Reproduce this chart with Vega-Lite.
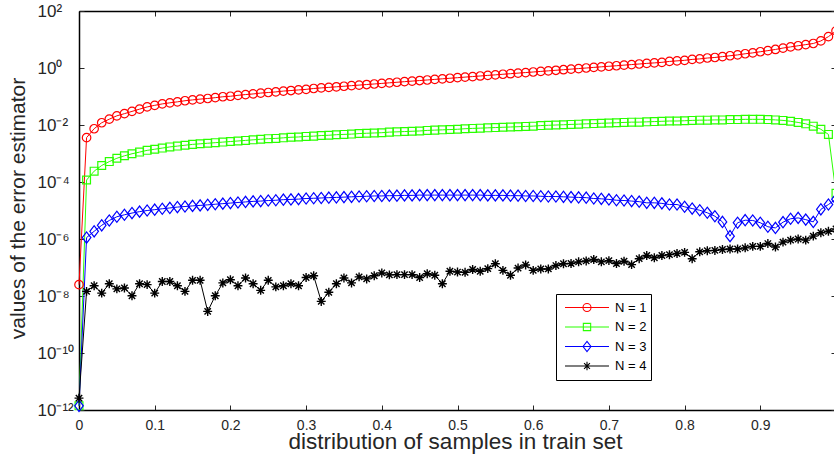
{
"$schema": "https://vega.github.io/schema/vega-lite/v6.json",
"width": 757, "height": 399,
"autosize": {"type": "none"},
"padding": {"left": 79, "top": 11, "right": 0, "bottom": 46},
"background": "white",
"config": {"view": {"stroke": null}, "font": "Liberation Sans"},
"data": {"values": [
{"x":0.00,"n1":2.5e-8,"n2":1.4e-12,"n3":1.4e-12,"n4":2.6e-12},
{"x":0.01,"n1":3.6e-3,"n2":1.17e-4,"n3":1.12e-6,"n4":1.45e-8},
{"x":0.02,"n1":7.4e-3,"n2":2.4e-4,"n3":1.86e-6,"n4":2.29e-8},
{"x":0.03,"n1":1.2e-2,"n2":3.8e-4,"n3":3.02e-6,"n4":1.26e-8},
{"x":0.04,"n1":1.6e-2,"n2":5.2e-4,"n3":4.47e-6,"n4":2.69e-8},
{"x":0.05,"n1":2.1e-2,"n2":6.8e-4,"n3":6.03e-6,"n4":1.78e-8},
{"x":0.06,"n1":2.5e-2,"n2":8.3e-4,"n3":7.08e-6,"n4":1.91e-8},
{"x":0.07,"n1":3.0e-2,"n2":9.8e-4,"n3":8.13e-6,"n4":1.02e-8},
{"x":0.08,"n1":3.6e-2,"n2":1.12e-3,"n3":9.12e-6,"n4":2.69e-8},
{"x":0.09,"n1":4.3e-2,"n2":1.29e-3,"n3":1.0e-5,"n4":2.51e-8},
{"x":0.10,"n1":4.9e-2,"n2":1.41e-3,"n3":1.07e-5,"n4":1.26e-8},
{"x":0.11,"n1":5.5e-2,"n2":1.55e-3,"n3":1.15e-5,"n4":3.24e-8},
{"x":0.12,"n1":6.0e-2,"n2":1.70e-3,"n3":1.23e-5,"n4":3.24e-8},
{"x":0.13,"n1":6.5e-2,"n2":1.82e-3,"n3":1.32e-5,"n4":2.29e-8},
{"x":0.14,"n1":7.1e-2,"n2":1.95e-3,"n3":1.38e-5,"n4":1.45e-8},
{"x":0.15,"n1":7.6e-2,"n2":2.09e-3,"n3":1.45e-5,"n4":3.55e-8},
{"x":0.16,"n1":8.1e-2,"n2":2.19e-3,"n3":1.51e-5,"n4":3.55e-8},
{"x":0.17,"n1":8.5e-2,"n2":2.29e-3,"n3":1.58e-5,"n4":2.88e-9},
{"x":0.18,"n1":9.1e-2,"n2":2.40e-3,"n3":1.66e-5,"n4":1.02e-8},
{"x":0.19,"n1":9.8e-2,"n2":2.51e-3,"n3":1.74e-5,"n4":2.88e-8},
{"x":0.20,"n1":0.102,"n2":2.63e-3,"n3":1.82e-5,"n4":3.72e-8},
{"x":0.21,"n1":0.110,"n2":2.75e-3,"n3":1.91e-5,"n4":2.29e-8},
{"x":0.22,"n1":0.117,"n2":2.88e-3,"n3":2.00e-5,"n4":4.27e-8},
{"x":0.23,"n1":0.123,"n2":3.02e-3,"n3":2.09e-5,"n4":2.69e-8},
{"x":0.24,"n1":0.132,"n2":3.16e-3,"n3":2.14e-5,"n4":1.58e-8},
{"x":0.25,"n1":0.138,"n2":3.31e-3,"n3":2.24e-5,"n4":3.55e-8},
{"x":0.26,"n1":0.145,"n2":3.39e-3,"n3":2.29e-5,"n4":2.09e-8},
{"x":0.27,"n1":0.155,"n2":3.55e-3,"n3":2.40e-5,"n4":2.29e-8},
{"x":0.28,"n1":0.162,"n2":3.72e-3,"n3":2.45e-5,"n4":2.69e-8},
{"x":0.29,"n1":0.170,"n2":3.80e-3,"n3":2.51e-5,"n4":2.29e-8},
{"x":0.30,"n1":0.178,"n2":3.98e-3,"n3":2.63e-5,"n4":4.47e-8},
{"x":0.31,"n1":0.191,"n2":4.07e-3,"n3":2.69e-5,"n4":5.13e-8},
{"x":0.32,"n1":0.200,"n2":4.27e-3,"n3":2.75e-5,"n4":6.46e-9},
{"x":0.33,"n1":0.209,"n2":4.37e-3,"n3":2.82e-5,"n4":1.35e-8},
{"x":0.34,"n1":0.219,"n2":4.57e-3,"n3":2.88e-5,"n4":2.69e-8},
{"x":0.35,"n1":0.229,"n2":4.68e-3,"n3":2.95e-5,"n4":4.27e-8},
{"x":0.36,"n1":0.240,"n2":4.79e-3,"n3":3.02e-5,"n4":2.88e-8},
{"x":0.37,"n1":0.251,"n2":5.01e-3,"n3":3.09e-5,"n4":4.68e-8},
{"x":0.38,"n1":0.263,"n2":5.13e-3,"n3":3.16e-5,"n4":3.98e-8},
{"x":0.39,"n1":0.275,"n2":5.25e-3,"n3":3.24e-5,"n4":5.13e-8},
{"x":0.40,"n1":0.288,"n2":5.37e-3,"n3":3.24e-5,"n4":6.46e-8},
{"x":0.41,"n1":0.302,"n2":5.62e-3,"n3":3.31e-5,"n4":5.50e-8},
{"x":0.42,"n1":0.316,"n2":5.75e-3,"n3":3.31e-5,"n4":5.62e-8},
{"x":0.43,"n1":0.331,"n2":5.89e-3,"n3":3.39e-5,"n4":5.62e-8},
{"x":0.44,"n1":0.347,"n2":6.03e-3,"n3":3.39e-5,"n4":5.62e-8},
{"x":0.45,"n1":0.363,"n2":6.17e-3,"n3":3.47e-5,"n4":4.47e-8},
{"x":0.46,"n1":0.380,"n2":6.46e-3,"n3":3.47e-5,"n4":6.03e-8},
{"x":0.47,"n1":0.398,"n2":6.61e-3,"n3":3.47e-5,"n4":5.37e-8},
{"x":0.48,"n1":0.417,"n2":6.76e-3,"n3":3.47e-5,"n4":2.69e-8},
{"x":0.49,"n1":0.437,"n2":6.92e-3,"n3":3.47e-5,"n4":7.41e-8},
{"x":0.50,"n1":0.457,"n2":7.08e-3,"n3":3.47e-5,"n4":6.92e-8},
{"x":0.51,"n1":0.479,"n2":7.41e-3,"n3":3.47e-5,"n4":6.76e-8},
{"x":0.52,"n1":0.501,"n2":7.59e-3,"n3":3.47e-5,"n4":8.51e-8},
{"x":0.53,"n1":0.525,"n2":7.76e-3,"n3":3.47e-5,"n4":7.41e-8},
{"x":0.54,"n1":0.550,"n2":7.94e-3,"n3":3.39e-5,"n4":9.12e-8},
{"x":0.55,"n1":0.575,"n2":8.13e-3,"n3":3.39e-5,"n4":1.35e-7},
{"x":0.56,"n1":0.603,"n2":8.32e-3,"n3":3.39e-5,"n4":7.94e-8},
{"x":0.57,"n1":0.631,"n2":8.51e-3,"n3":3.31e-5,"n4":5.37e-8},
{"x":0.58,"n1":0.661,"n2":8.71e-3,"n3":3.31e-5,"n4":9.55e-8},
{"x":0.59,"n1":0.692,"n2":8.91e-3,"n3":3.24e-5,"n4":1.23e-7},
{"x":0.60,"n1":0.724,"n2":9.12e-3,"n3":3.24e-5,"n4":7.94e-8},
{"x":0.61,"n1":0.759,"n2":9.55e-3,"n3":3.16e-5,"n4":8.91e-8},
{"x":0.62,"n1":0.794,"n2":9.77e-3,"n3":3.09e-5,"n4":8.91e-8},
{"x":0.63,"n1":0.832,"n2":1.00e-2,"n3":3.09e-5,"n4":1.17e-7},
{"x":0.64,"n1":0.871,"n2":1.02e-2,"n3":3.02e-5,"n4":1.35e-7},
{"x":0.65,"n1":0.912,"n2":1.05e-2,"n3":2.95e-5,"n4":1.38e-7},
{"x":0.66,"n1":0.955,"n2":1.07e-2,"n3":2.88e-5,"n4":1.58e-7},
{"x":0.67,"n1":1.00,"n2":1.10e-2,"n3":2.82e-5,"n4":1.70e-7},
{"x":0.68,"n1":1.05,"n2":1.12e-2,"n3":2.63e-5,"n4":1.91e-7},
{"x":0.69,"n1":1.10,"n2":1.15e-2,"n3":2.57e-5,"n4":1.58e-7},
{"x":0.70,"n1":1.15,"n2":1.17e-2,"n3":2.45e-5,"n4":1.74e-7},
{"x":0.71,"n1":1.20,"n2":1.20e-2,"n3":2.29e-5,"n4":1.38e-7},
{"x":0.72,"n1":1.26,"n2":1.23e-2,"n3":2.24e-5,"n4":1.66e-7},
{"x":0.73,"n1":1.32,"n2":1.26e-2,"n3":2.14e-5,"n4":1.26e-7},
{"x":0.74,"n1":1.38,"n2":1.26e-2,"n3":2.04e-5,"n4":2.04e-7},
{"x":0.75,"n1":1.45,"n2":1.29e-2,"n3":1.86e-5,"n4":2.63e-7},
{"x":0.76,"n1":1.51,"n2":1.32e-2,"n3":1.86e-5,"n4":2.19e-7},
{"x":0.77,"n1":1.58,"n2":1.35e-2,"n3":1.78e-5,"n4":2.63e-7},
{"x":0.78,"n1":1.70,"n2":1.38e-2,"n3":1.62e-5,"n4":2.82e-7},
{"x":0.79,"n1":1.78,"n2":1.38e-2,"n3":1.62e-5,"n4":3.09e-7},
{"x":0.80,"n1":1.86,"n2":1.41e-2,"n3":1.35e-5,"n4":3.39e-7},
{"x":0.81,"n1":2.00,"n2":1.45e-2,"n3":1.17e-5,"n4":2.04e-7},
{"x":0.82,"n1":2.09,"n2":1.48e-2,"n3":1.02e-5,"n4":3.55e-7},
{"x":0.83,"n1":2.24,"n2":1.48e-2,"n3":8.32e-6,"n4":3.89e-7},
{"x":0.84,"n1":2.34,"n2":1.51e-2,"n3":6.31e-6,"n4":3.98e-7},
{"x":0.85,"n1":2.51,"n2":1.51e-2,"n3":3.98e-6,"n4":4.27e-7},
{"x":0.86,"n1":2.69,"n2":1.55e-2,"n3":1.26e-6,"n4":4.47e-7},
{"x":0.87,"n1":2.88,"n2":1.55e-2,"n3":3.72e-6,"n4":4.47e-7},
{"x":0.88,"n1":3.16,"n2":1.58e-2,"n3":4.57e-6,"n4":4.90e-7},
{"x":0.89,"n1":3.39,"n2":1.58e-2,"n3":4.47e-6,"n4":5.50e-7},
{"x":0.90,"n1":3.72,"n2":1.58e-2,"n3":3.72e-6,"n4":5.50e-7},
{"x":0.91,"n1":4.07,"n2":1.55e-2,"n3":2.69e-6,"n4":6.92e-7},
{"x":0.92,"n1":4.47,"n2":1.51e-2,"n3":2.45e-6,"n4":5.25e-7},
{"x":0.93,"n1":5.01,"n2":1.45e-2,"n3":3.89e-6,"n4":7.76e-7},
{"x":0.94,"n1":5.50,"n2":1.35e-2,"n3":5.13e-6,"n4":9.12e-7},
{"x":0.95,"n1":6.03,"n2":1.23e-2,"n3":5.50e-6,"n4":1.0e-6},
{"x":0.96,"n1":6.61,"n2":1.10e-2,"n3":4.79e-6,"n4":9.12e-7},
{"x":0.97,"n1":7.24,"n2":9.12e-3,"n3":3.98e-6,"n4":1.26e-6},
{"x":0.98,"n1":8.91,"n2":7.08e-3,"n3":1.10e-5,"n4":1.66e-6},
{"x":0.99,"n1":12.6,"n2":4.68e-3,"n3":1.62e-5,"n4":1.86e-6},
{"x":1.00,"n1":20,"n2":4.0e-5,"n3":2.5e-5,"n4":2.24e-6}
]},
"transform": [{"fold": ["n1","n2","n3","n4"], "as": ["series","value"]}],
"layer": [
{
"mark": {"type": "line", "strokeWidth": 1},
"encoding": {
"x": {"field": "x", "type": "quantitative", "scale": {"domain": [0,1], "nice": false, "zero": false},
 "axis": {"orient": "bottom", "values": [0,0.1,0.2,0.3,0.4,0.5,0.6,0.7,0.8,0.9], "labelExpr": "datum.value == 0 ? '0' : format(datum.value, '.1f')", "tickSize": -5, "tickColor": "#262626", "labelPadding": 13, "labelFontSize": 14, "labelFont": "Liberation Sans", "labelColor": "#262626", "labelFlush": false, "labelOverlap": false, "labelBound": false, "domainColor": "#000000", "domainWidth": 1.5, "grid": false,
 "title": "distribution of samples in train set", "titleFont": "Liberation Sans", "titleFontSize": 22.5, "titleFontWeight": "normal", "titleColor": "#262626", "titleX": 376, "titleY": 38, "titleAlign": "center", "titleBaseline": "alphabetic"}},
"y": {"field": "value", "type": "quantitative", "scale": {"type": "log", "domain": [1e-12, 100], "nice": false},
 "axis": {"orient": "left", "values": [1e-12,1e-10,1e-8,1e-6,1e-4,1e-2,1,100], "labelExpr": "datum.value > 10 ? '10²' : datum.value > 0.1 ? '10⁰' : datum.value > 1e-3 ? '10⁻²' : datum.value > 1e-5 ? '10⁻⁴' : datum.value > 1e-7 ? '10⁻⁶' : datum.value > 1e-9 ? '10⁻⁸' : datum.value > 1e-11 ? '10⁻¹⁰' : '10⁻¹²'", "tickSize": -5, "tickColor": "#262626", "labelAlign": "left", "labelBaseline": "middle", "labelPadding": 47, "labelFontSize": 17, "labelFont": "Liberation Sans", "labelColor": "#262626", "labelFlush": false, "labelOverlap": false, "labelBound": false, "domainColor": "#000000", "domainWidth": 1.5, "grid": false,
 "title": "values of the error estimator", "titleFont": "Liberation Sans", "titleFontSize": 21, "titleFontWeight": "normal", "titleColor": "#262626", "titleX": -55, "titleY": 197, "titleAngle": 270, "titleAlign": "center", "titleBaseline": "alphabetic"}},
"color": {"field": "series", "type": "nominal", "scale": {"domain": ["n1","n2","n3","n4"], "range": ["#ff0000","#2aff00","#0000ff","#000000"]},
 "legend": {"orient": "none", "legendX": 477, "legendY": 283, "title": null, "padding": 4, "strokeColor": "#000000", "fillColor": "#ffffff",
  "symbolSize": 2704, "symbolStrokeWidth": 1.1, "clipHeight": 19, "rowPadding": 0.5,
  "labelFont": "Liberation Sans", "labelFontSize": 13, "labelColor": "#000000", "labelOffset": 1,
  "labelExpr": "'N = ' + substring(datum.label, 1)",
  "encode": {"symbols": {"update": {
   "shape": {"signal": "datum.value == 'n1' ? 'M-0.846,0L0.846,0M-0.154,0A0.154,0.154 0 1,1 0.154,0A0.154,0.154 0 1,1 -0.154,0' : datum.value == 'n2' ? 'M-0.846,0L0.846,0M-0.141,-0.141L0.141,-0.141L0.141,0.141L-0.141,0.141Z' : datum.value == 'n3' ? 'M-0.846,0L0.846,0M-0.154,0L0,-0.2L0.154,0L0,0.2Z' : 'M-0.846,0L0.846,0M0,-0.16L0,0.16M-0.113,-0.113L0.113,0.113M-0.113,0.113L0.113,-0.113'"},
   "fill": {"value": "transparent"}}}}}}
}
},
{
"transform": [{"filter": "datum.series == 'n1'"}],
"mark": {"type": "point", "filled": false, "strokeWidth": 1.2, "size": 125, "opacity": 1, "color": "#ff0000", "shape": "M-0.76,0A0.76,0.76 0 1,1 0.76,0A0.76,0.76 0 1,1 -0.76,0Z"},
"encoding": {
"x": {"field": "x", "type": "quantitative", "scale": {"domain": [0,1], "nice": false, "zero": false},
 "axis": {"orient": "top", "values": [0,0.1,0.2,0.3,0.4,0.5,0.6,0.7,0.8,0.9], "labels": false, "tickSize": -5, "tickColor": "#262626", "domainColor": "#000000", "domainWidth": 1.5, "grid": false, "title": null}},
"y": {"field": "value", "type": "quantitative", "scale": {"type": "log", "domain": [1e-12, 100], "nice": false},
 "axis": {"orient": "right", "values": [1e-12,1e-10,1e-8,1e-6,1e-4,1e-2,1,100], "labels": false, "tickSize": -5, "tickColor": "#262626", "domainColor": "#000000", "domainWidth": 1.5, "grid": false, "title": null}}
}
},
{
"transform": [{"filter": "datum.series == 'n2'"}],
"mark": {"type": "point", "filled": false, "strokeWidth": 1.2, "size": 125, "opacity": 1, "color": "#2aff00", "shape": "M-0.7,-0.7L0.7,-0.7L0.7,0.7L-0.7,0.7Z"},
"encoding": {
"x": {"field": "x", "type": "quantitative", "axis": null},
"y": {"field": "value", "type": "quantitative", "axis": null}
}
},
{
"transform": [{"filter": "datum.series == 'n3'"}],
"mark": {"type": "point", "filled": false, "strokeWidth": 1.2, "size": 125, "opacity": 1, "color": "#0000ff", "shape": "M-0.77,0L0,-1L0.77,0L0,1Z"},
"encoding": {
"x": {"field": "x", "type": "quantitative", "axis": null},
"y": {"field": "value", "type": "quantitative", "axis": null}
}
},
{
"transform": [{"filter": "datum.series == 'n4'"}],
"mark": {"type": "point", "filled": false, "strokeWidth": 1.4, "size": 125, "opacity": 1, "color": "#000000", "shape": "M-0.8,0L0.8,0M0,-0.8L0,0.8M-0.57,-0.57L0.57,0.57M-0.57,0.57L0.57,-0.57"},
"encoding": {
"x": {"field": "x", "type": "quantitative", "axis": null},
"y": {"field": "value", "type": "quantitative", "axis": null}
}
}
],
"resolve": {"axis": {"x": "independent", "y": "independent"}}
}
